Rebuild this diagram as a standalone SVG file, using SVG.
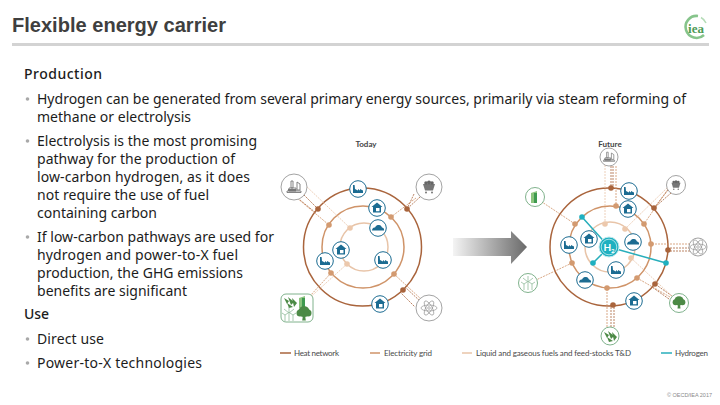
<svg xmlns="http://www.w3.org/2000/svg" xmlns:xlink="http://www.w3.org/1999/xlink" width="720" height="405" viewBox="0 0 720 405">
<style>
.t{font-family:"Noto Sans","Open Sans",sans-serif;font-size:14px;fill:#1c1c1c}
.b{fill:#a9a9a9}
.h{font-family:"Noto Sans","Open Sans",sans-serif;font-size:14px;font-weight:500;fill:#1c1c1c}
.lg{font-family:Lato,"Noto Sans",sans-serif;font-size:8px;fill:#4a4a4a}
.heat{fill:none;stroke:#a9643c;stroke-width:1.5}
.elec{fill:none;stroke:#cf9368;stroke-width:1.5}
.liq{fill:none;stroke:#e8c4a8;stroke-width:1.5}
.c1{stroke:#a9643c;stroke-width:.8;stroke-dasharray:2 1;fill:none}
.c2{stroke:#cf9368;stroke-width:.8;stroke-dasharray:2 1;fill:none}
.c3{stroke:#e8c4a8;stroke-width:.8;stroke-dasharray:2 1;fill:none}
.hy{stroke:#28aebb;stroke-width:1.5;fill:none}
.d1{fill:#a9643c}.d2{fill:#d39a70}.d3{fill:#ecc8ac}.d4{fill:#1fb0c0}
.g{fill:#fff;stroke:#8c8c8c;stroke-width:.8}
.gn{fill:#fff;stroke:#5f9e6e;stroke-width:.8}
</style>
<defs>
<linearGradient id="arrow" x1="0" x2="1" y1="0" y2="0"><stop offset="0" stop-color="#f4f4f4"/><stop offset="1" stop-color="#6a6a6a"/></linearGradient>
<g id="fac"><circle r="8.3" fill="#fff" stroke="#1c6c92" stroke-width="1"/><path d="M-5 4V-4H-3.4L-3 0 0 1.5V0L2 1.5V0L5 1.5V4Z" fill="#1c6c92"/></g>
<g id="hou"><circle r="8.3" fill="#fff" stroke="#1c6c92" stroke-width="1"/><path d="M0-5.5 5.5-1H4V4.5H-4V-1H-5.5ZM-1 0V3.2H2.5V0Z" fill="#1c6c92" fill-rule="evenodd"/></g>
<g id="car"><circle r="8.3" fill="#fff" stroke="#1c6c92" stroke-width="1"/><path d="M-6 2.5C-6 0-4-.5-3-.5-2-2.5-1-3 1-3S3.5-1.5 4-.5C5-.5 6.5 .5 6 2.5Z" fill="#1c6c92"/></g>
<g id="atom" fill="none" stroke="#888" stroke-width=".6"><ellipse rx="8" ry="3"/><ellipse rx="8" ry="3" transform="rotate(60)"/><ellipse rx="8" ry="3" transform="rotate(120)"/><circle r="1.3"/></g>
<g id="coal"><path d="M-6-3H6L4 3.5H-4Z" fill="#777"/><circle cx="-3" cy="-4" r="1.8" fill="#666"/><circle cy="-4.5" r="2" fill="#666"/><circle cx="3" cy="-4" r="1.8" fill="#666"/><circle cx="-3" cy="5.5" r="1" fill="#777"/><circle cx="3" cy="5.5" r="1" fill="#777"/></g>
<g id="oil"><path d="M-7 4H7V5.5H-7ZM-5 1H2V4H-5ZM-3-6H-1V1H-3ZM3-5 6-3V3H3Z" fill="none" stroke="#777" stroke-width=".9"/><path d="M-6 2H2V4H-6Z" fill="#777"/></g>
<g id="tree"><circle cy="-2.5" r="5.5" fill="#4c8a46"/><circle cx="-4" cy="-1" r="3.5" fill="#4c8a46"/><circle cx="4" cy="-1" r="3.5" fill="#4c8a46"/><path d="M-1 1H1L1.8 6.5H-1.8Z" fill="#4c8a46"/></g>
<g id="wind" fill="none" stroke="#6da57a" stroke-width=".6"><path d="M0-1V7M0-1-5-5M0-1 5-5M0-1V-7M-4 7V1M-4 1-7-1M-4 1-1-1M4 7V1M4 1 7-1M4 1 1-1"/></g>
<g id="bio"><path d="M-6-4-1-1-3 2ZM-2-5 4 0 1 3ZM2-4 7 1 4 5ZM-3 1 3 5-1 6Z" fill="#4c8a46"/></g>
<g id="sol"><path d="M-4 6V-4L2-6V6Z" fill="#8cc47e"/><path d="M-1 6V-4H2V6Z" fill="#3f9a50"/></g>
</defs>
<rect width="720" height="405" fill="#fff"/>
<text x="12" y="32" font-family="Liberation Sans, Arial, sans-serif" font-size="20" font-weight="700" fill="#3f3f3f" textLength="214" lengthAdjust="spacingAndGlyphs">Flexible energy carrier</text>
<rect x="12" y="43" width="697" height="3" fill="#d3d3d3"/>
<g id="logo"><path d="M698 16A11 11 0 1 0 704 35" fill="none" stroke="#86c48b" stroke-width="2.6"/><path d="M701 17.5A11 11 0 0 1 706 23" fill="none" stroke="#b5dcb7" stroke-width="1.5"/><text x="696" y="33" text-anchor="middle" font-family="Liberation Serif, serif" font-weight="700" font-size="13" fill="#4c9a55">iea</text></g>

<g id="body">
<text class="h" x="24" y="79" textLength="78" lengthAdjust="spacing">Production</text>
<circle class="b" cx="27.5" cy="99" r="1.8"/>
<text class="t" x="37" y="104" textLength="649" lengthAdjust="spacing">Hydrogen can be generated from several primary energy sources, primarily via steam reforming of</text>
<text class="t" x="37" y="122" textLength="154" lengthAdjust="spacing">methane or electrolysis</text>
<circle class="b" cx="27.5" cy="141" r="1.8"/>
<text class="t" x="37" y="146" textLength="220" lengthAdjust="spacing">Electrolysis is the most promising</text>
<text class="t" x="37" y="164" textLength="198" lengthAdjust="spacing">pathway for the production of</text>
<text class="t" x="37" y="182" textLength="213" lengthAdjust="spacing">low-carbon hydrogen, as it does</text>
<text class="t" x="37" y="200" textLength="172" lengthAdjust="spacing">not require the use of fuel</text>
<text class="t" x="37" y="218" textLength="120" lengthAdjust="spacing">containing carbon</text>
<circle class="b" cx="27.5" cy="237" r="1.8"/>
<text class="t" x="37" y="242" textLength="237" lengthAdjust="spacing">If low-carbon pathways are used for</text>
<text class="t" x="37" y="260" textLength="201" lengthAdjust="spacing">hydrogen and power-to-X fuel</text>
<text class="t" x="37" y="278" textLength="206" lengthAdjust="spacing">production, the GHG emissions</text>
<text class="t" x="37" y="296" textLength="150" lengthAdjust="spacing">benefits are significant</text>
<text class="h" x="24" y="319" textLength="25" lengthAdjust="spacing">Use</text>
<circle class="b" cx="27.5" cy="339" r="1.8"/>
<text class="t" x="37" y="344" textLength="67" lengthAdjust="spacing">Direct use</text>
<circle class="b" cx="27.5" cy="363" r="1.8"/>
<text class="t" x="37" y="368" textLength="165" lengthAdjust="spacing">Power-to-X technologies</text>
</g>

<text x="366" y="147" text-anchor="middle" font-family="Lato, Noto Sans, sans-serif" font-size="8" font-weight="700" fill="#444">Today</text>
<text x="610" y="147" text-anchor="middle" font-family="Lato, Noto Sans, sans-serif" font-size="8" font-weight="700" fill="#444">Future</text>
<path id="big-arrow" d="M453 238H511V231L527 247 511 264V256H453Z" fill="url(#arrow)"/>

<g id="connectors">
<circle class="heat" cx="362.5" cy="247" r="59"/><circle class="elec" cx="363" cy="247" r="41"/><circle class="liq" cx="364" cy="247" r="24"/>
<path class="c1" d="M304 195 318 209M300 200 316 213M414 194 407 209M420 197 407 209M405 287 421 302M400 292 415 307"/>
<path class="c2" d="M297 198 329 225M416 198 391 217M394 274 422 300M331 273 310 296"/>
<path class="c3" d="M305 185 350 228M347 264 305 302"/>
<circle class="d1" cx="318" cy="209" r="2.8"/><circle class="d1" cx="407" cy="209" r="2.8"/><circle class="d1" cx="403" cy="290" r="2.8"/>
<circle class="d2" cx="329" cy="225" r="2.8"/><circle class="d2" cx="391" cy="217" r="2.8"/><circle class="d2" cx="394" cy="274" r="2.8"/><circle class="d2" cx="331" cy="273" r="2.8"/>
<circle class="d3" cx="350" cy="228" r="2.8"/><circle class="d3" cx="347" cy="264" r="2.8"/>

<circle class="heat" cx="609" cy="247" r="59"/><circle class="elec" cx="610" cy="247" r="41"/><circle class="liq" cx="610" cy="247" r="25"/>
<path class="c1" d="M611 166V188M613 166V188M668 190 654 208M671 193 654 208M705 248H668M705 251H668M672 296 655 284M669 299 652 287M611 327V305M614 327V305"/>
<path class="c2" d="M616 166V206M668 189 644 224M690 244H651M670 297 637 278M607 327V288M575 224 542 202M572 263 536 280"/>
<path class="c3" d="M605 165V224M625 229 668 187M631 258 674 298"/>
<path class="hy" d="M609 247 582 217M609 247 593 263M609 247 666 263"/>
<circle class="d1" cx="611" cy="188" r="2.8"/><circle class="d1" cx="654" cy="208" r="2.8"/><circle class="d1" cx="668" cy="250" r="2.8"/><circle class="d1" cx="655" cy="284" r="2.8"/><circle class="d1" cx="613" cy="305" r="2.8"/>
<circle class="d2" cx="616" cy="206" r="2.8"/><circle class="d2" cx="644" cy="224" r="2.8"/><circle class="d2" cx="651" cy="244" r="2.8"/><circle class="d2" cx="637" cy="278" r="2.8"/><circle class="d2" cx="607" cy="288" r="2.8"/><circle class="d2" cx="575" cy="224" r="2.8"/><circle class="d2" cx="572" cy="263" r="2.8"/>
<circle class="d3" cx="605" cy="224" r="2.8"/><circle class="d3" cx="625" cy="229" r="2.8"/><circle class="d3" cx="631" cy="258" r="2.8"/>
<circle class="d4" cx="582" cy="217" r="2.8"/><circle class="d4" cx="593" cy="263" r="2.8"/><circle class="d4" cx="666" cy="263" r="2.8"/>
</g>

<g id="today-nodes">
<use id="t-fac1" xlink:href="#fac" href="#fac" x="358" y="189"/>
<use id="t-hou1" xlink:href="#hou" href="#hou" x="377" y="208"/>
<use id="t-car" xlink:href="#car" href="#car" x="378" y="228"/>
<use id="t-hou2" xlink:href="#hou" href="#hou" x="341" y="250"/>
<use id="t-fac2" xlink:href="#fac" href="#fac" x="325" y="261"/>
<use id="t-fac3" xlink:href="#fac" href="#fac" x="383" y="260"/>
<use id="t-hou3" xlink:href="#hou" href="#hou" x="380" y="304"/>
<g id="t-oil"><circle class="g" cx="294" cy="187" r="13"/><use xlink:href="#oil" href="#oil" x="294" y="187"/></g>
<g id="t-coal"><circle class="g" cx="429" cy="187" r="13"/><use xlink:href="#coal" href="#coal" x="429" y="187"/></g>
<g id="t-nuc"><circle class="g" cx="429" cy="308" r="13"/><use xlink:href="#atom" href="#atom" x="429" y="308"/></g>
<g id="t-ren"><rect class="gn" x="281" y="294" width="32" height="28" rx="5"/><use xlink:href="#bio" href="#bio" x="290" y="302"/><use xlink:href="#sol" href="#sol" x="303" y="302"/><use xlink:href="#wind" href="#wind" x="289" y="314"/><use xlink:href="#tree" href="#tree" x="304" y="314"/></g>
</g>

<g id="future-nodes">
<use id="f-fac1" xlink:href="#fac" href="#fac" x="629" y="191"/>
<use id="f-hou1" xlink:href="#hou" href="#hou" x="628" y="209"/>
<use id="f-car1" xlink:href="#car" href="#car" x="633" y="242"/>
<use id="f-fac2" xlink:href="#fac" href="#fac" x="616" y="270"/>
<use id="f-hou2" xlink:href="#hou" href="#hou" x="634" y="301"/>
<use id="f-car2" xlink:href="#car" href="#car" x="585" y="280"/>
<use id="f-fac3" xlink:href="#fac" href="#fac" x="569" y="245"/>
<use id="f-hou3" xlink:href="#hou" href="#hou" x="589" y="239"/>
<g id="f-h2"><circle cx="609" cy="247" r="10" fill="#1fb0c0" stroke="#bfe9ee" stroke-width="1"/><circle cx="609" cy="247" r="7.8" fill="none" stroke="#fff" stroke-width=".6"/><text x="609" y="251" text-anchor="middle" font-family="Lato, Noto Sans, sans-serif" font-size="10" font-weight="700" fill="#fff">H<tspan font-size="6" dy="1.5">2</tspan></text></g>
<g id="f-oil"><circle class="g" cx="609" cy="157" r="9"/><use xlink:href="#oil" href="#oil" transform="translate(609 157) scale(.8)"/></g>
<g id="f-coal"><circle class="g" cx="676" cy="185" r="9.5"/><use xlink:href="#coal" href="#coal" transform="translate(676 185) scale(.75)"/></g>
<g id="f-nuc"><circle class="g" cx="698" cy="247" r="9"/><use xlink:href="#atom" href="#atom" x="698" y="247"/></g>
<g id="f-tree"><circle class="gn" cx="679" cy="303" r="9.5"/><use xlink:href="#tree" href="#tree" transform="translate(679 303) scale(.85)"/></g>
<g id="f-bio"><circle class="gn" cx="610" cy="336" r="9"/><use xlink:href="#bio" href="#bio" x="610" y="336"/></g>
<g id="f-wind"><circle class="gn" cx="528" cy="283" r="9.5"/><use xlink:href="#wind" href="#wind" x="528" y="283"/></g>
<g id="f-sol"><circle class="gn" cx="535" cy="197" r="9.5"/><use xlink:href="#sol" href="#sol" x="535" y="197"/></g>
</g>

<g id="legend">
<line x1="280" x2="291" y1="353" y2="353" stroke="#a9643c" stroke-width="1.5"/><text class="lg" x="294" y="356" textLength="45" lengthAdjust="spacing">Heat network</text>
<line x1="370" x2="380" y1="353" y2="353" stroke="#cf9368" stroke-width="1.5"/><text class="lg" x="384" y="356" textLength="48" lengthAdjust="spacing">Electricity grid</text>
<line x1="462" x2="472" y1="353" y2="353" stroke="#e8c4a8" stroke-width="1.5"/><text class="lg" x="476" y="356" textLength="155" lengthAdjust="spacing">Liquid and gaseous fuels and feed-stocks T&amp;D</text>
<line x1="661" x2="672" y1="353" y2="353" stroke="#28aebb" stroke-width="1.5"/><text class="lg" x="675" y="356" textLength="33" lengthAdjust="spacing">Hydrogen</text>
</g>
<text x="667" y="397" font-family="Liberation Sans, sans-serif" font-size="5.5" fill="#8a8a8a" textLength="45" lengthAdjust="spacing">© OECD/IEA 2017</text>
</svg>
